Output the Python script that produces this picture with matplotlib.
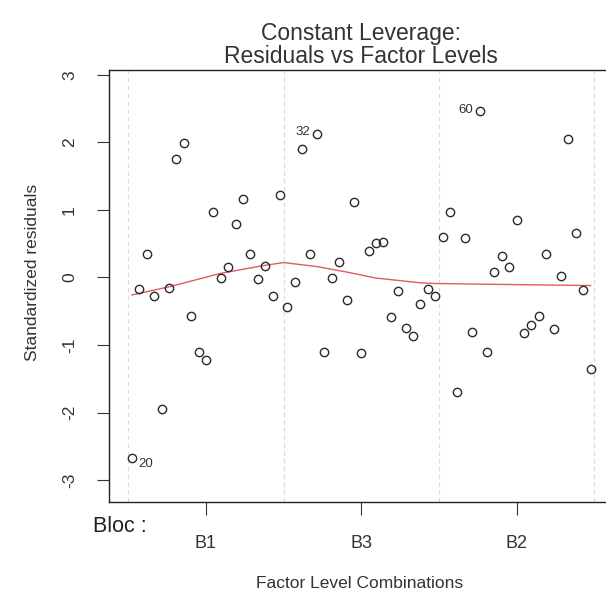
import numpy as np
import matplotlib
matplotlib.use("Agg")
import matplotlib.pyplot as plt

# standardized residuals, in plotting order (21 per bloc)
resid = [-2.67, -0.17, 0.35, -0.28, -1.95, -0.15, 1.76, 1.99, -0.57, -1.11,
         -1.22, 0.97, -0.01, 0.16, 0.79, 1.16, 0.35, -0.02, 0.17, -0.27,
         1.22,
         -0.44, -0.07, 1.90, 0.35, 2.13, -1.10, -0.01, 0.23, -0.33, 1.11,
         -1.12, 0.39, 0.51, 0.52, -0.58, -0.20, -0.75, -0.86, -0.40, -0.17,
         -0.28,
         0.60, 0.97, -1.70, 0.59, -0.81, 2.46, -1.10, 0.08, 0.31, 0.16,
         0.85, -0.82, -0.70, -0.57, 0.34, -0.76, 0.02, 2.05, 0.65, -0.19,
         -1.36]
bloc_levels = ["B1", "B3", "B2"]
bloc_sizes = [21, 21, 21]
labelled = {0: "20", 25: "32", 47: "60"}

# red smoother
smooth_x = [0, 5, 12, 17.5, 20.5, 25, 29, 33, 39, 41, 47, 62]
smooth_y = [-0.26, -0.14, 0.06, 0.17, 0.22, 0.16, 0.08, -0.01, -0.08, -0.09,
            -0.10, -0.12]

plt.rcParams['font.family'] = ['Liberation Sans', 'DejaVu Sans']
txt = "#333333"

fig = plt.figure(figsize=(6.06, 5.95), dpi=100)
W, H = 606, 595
# axes runs off the right edge, like the cropped original
ax = fig.add_axes([109 / W, 1 - 501.7 / H, (613.6 - 109) / W, (501.7 - 70) / H])

x = np.arange(len(resid))
bounds = np.concatenate([[0], np.cumsum(bloc_sizes)]) - 0.5
for b in bounds:
    ax.axvline(b, color="#dadada", lw=0.8, ls=(0, (4, 3)), zorder=0)

ax.plot(smooth_x, smooth_y, color="#e35a64", lw=1.0, zorder=2)
ax.plot(x, resid, ls="none", marker="o", ms=6, mfc="none", mec="#2a2a2a",
        mew=1.0, zorder=3)

for i, lab in labelled.items():
    off = (10, -4.5) if i < 20 else (-10, 1)
    ax.annotate(lab, (x[i], resid[i]), xytext=off, textcoords="offset points",
                ha="center", va="center", fontsize=9.5, color=txt)

ax.set_xlim(-3.1, 65.1)
ax.set_ylim(-3.32, 3.07)

centers = bounds[:-1] + np.array(bloc_sizes) / 2
ax.set_xticks(centers)
ax.set_xticklabels(bloc_levels)
ax.set_yticks([-3, -2, -1, 0, 1, 2, 3])
ax.set_yticklabels(["-3", "-2", "-1", "0", "1", "2", "3"], rotation=90,
                   va="center")
ax.tick_params(axis="both", length=9, width=0.8, color="#333333",
               labelcolor=txt, labelsize=12.5)
ax.tick_params(axis="x", pad=15, labelsize=13)
ax.tick_params(axis="y", pad=14)
for s in ax.spines.values():
    s.set_color("#222222")
    s.set_linewidth(1.0)

fig.text(361 / W, 1 - 40 / H, "Constant Leverage:", ha="center",
         va="baseline", fontsize=16.5, color=txt)
fig.text(361 / W, 1 - 63 / H, "Residuals vs Factor Levels", ha="center",
         va="baseline", fontsize=16.5, color=txt)
fig.text(33 / W, 1 - 272 / H, "Standardized residuals", rotation=90,
         ha="center", va="center", fontsize=12.5, color=txt)
fig.text(360 / W, 1 - 584 / H, "Factor Level Combinations",
         ha="center", va="center", fontsize=12.5, color=txt)
fig.text(120 / W, 1 - 527 / H, "Bloc :", ha="center", va="center",
         fontsize=15.5, color="#222222")

fig.savefig("out.png", dpi=100)
